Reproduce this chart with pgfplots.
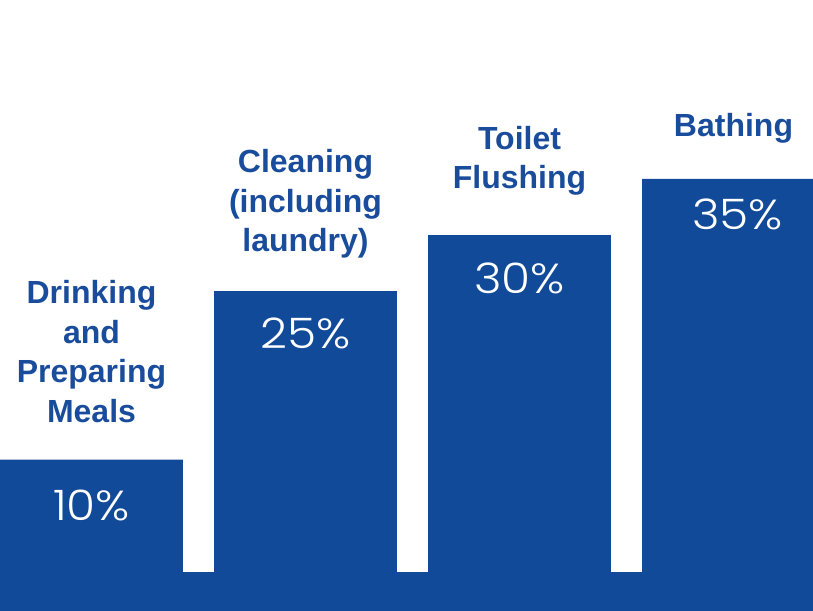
\documentclass[border=0pt]{standalone}
\usepackage{fontspec}
\setmainfont{Liberation Sans}
\newfontfamily\valfont[FakeStretch=1.12]{Poppins Light}
\usepackage{pgfplots}
\pgfplotsset{compat=1.18}
\definecolor{barblue}{HTML}{114A98}
\definecolor{txtblue}{HTML}{1A4C9C}

\begin{document}
\begin{tikzpicture}
\begin{axis}[
    scale only axis,
    width=813pt, height=611pt,
    xmin=-0.4276, xmax=3.3715,
    ymin=-3.47, ymax=50.93,
    hide axis,
    clip=true,
    ]
    % bottom band
    \addplot[fill=barblue, draw=none] coordinates {
        (-0.4276,-3.47) (3.3715,-3.47) (3.3715,0) (-0.4276,0)
    };
    % bars
    \addplot[ybar, bar width=0.855, fill=barblue, draw=none] coordinates {
        (0,10) (1,25) (2,30) (3,35)
    };
    % value labels
    \begin{scope}[every node/.style={text=white, font=\valfont\fontsize{42}{46}\selectfont}]
    \node at (axis cs:0,5.97) {10\%};
    \node at (axis cs:1,21.28) {25\%};
    \node at (axis cs:2,26.18) {30\%};
    \node at (axis cs:3.02,31.88) {35\%};
    \end{scope}
    % category labels
    \begin{scope}[every node/.style={text=txtblue, align=center, font=\bfseries\fontsize{32}{39.5}\selectfont}]
    \node at (axis cs:0,19.63) {Drinking\\and\\Preparing\\Meals};
    \node at (axis cs:1,32.77) {Cleaning\\(including\\laundry)};
    \node at (axis cs:2,36.60) {Toilet\\Flushing};
    \node at (axis cs:3,39.55) {Bathing};
    \end{scope}
\end{axis}
\pgfresetboundingbox
\path (current axis.south west) rectangle (current axis.north east);
\end{tikzpicture}
\end{document}
